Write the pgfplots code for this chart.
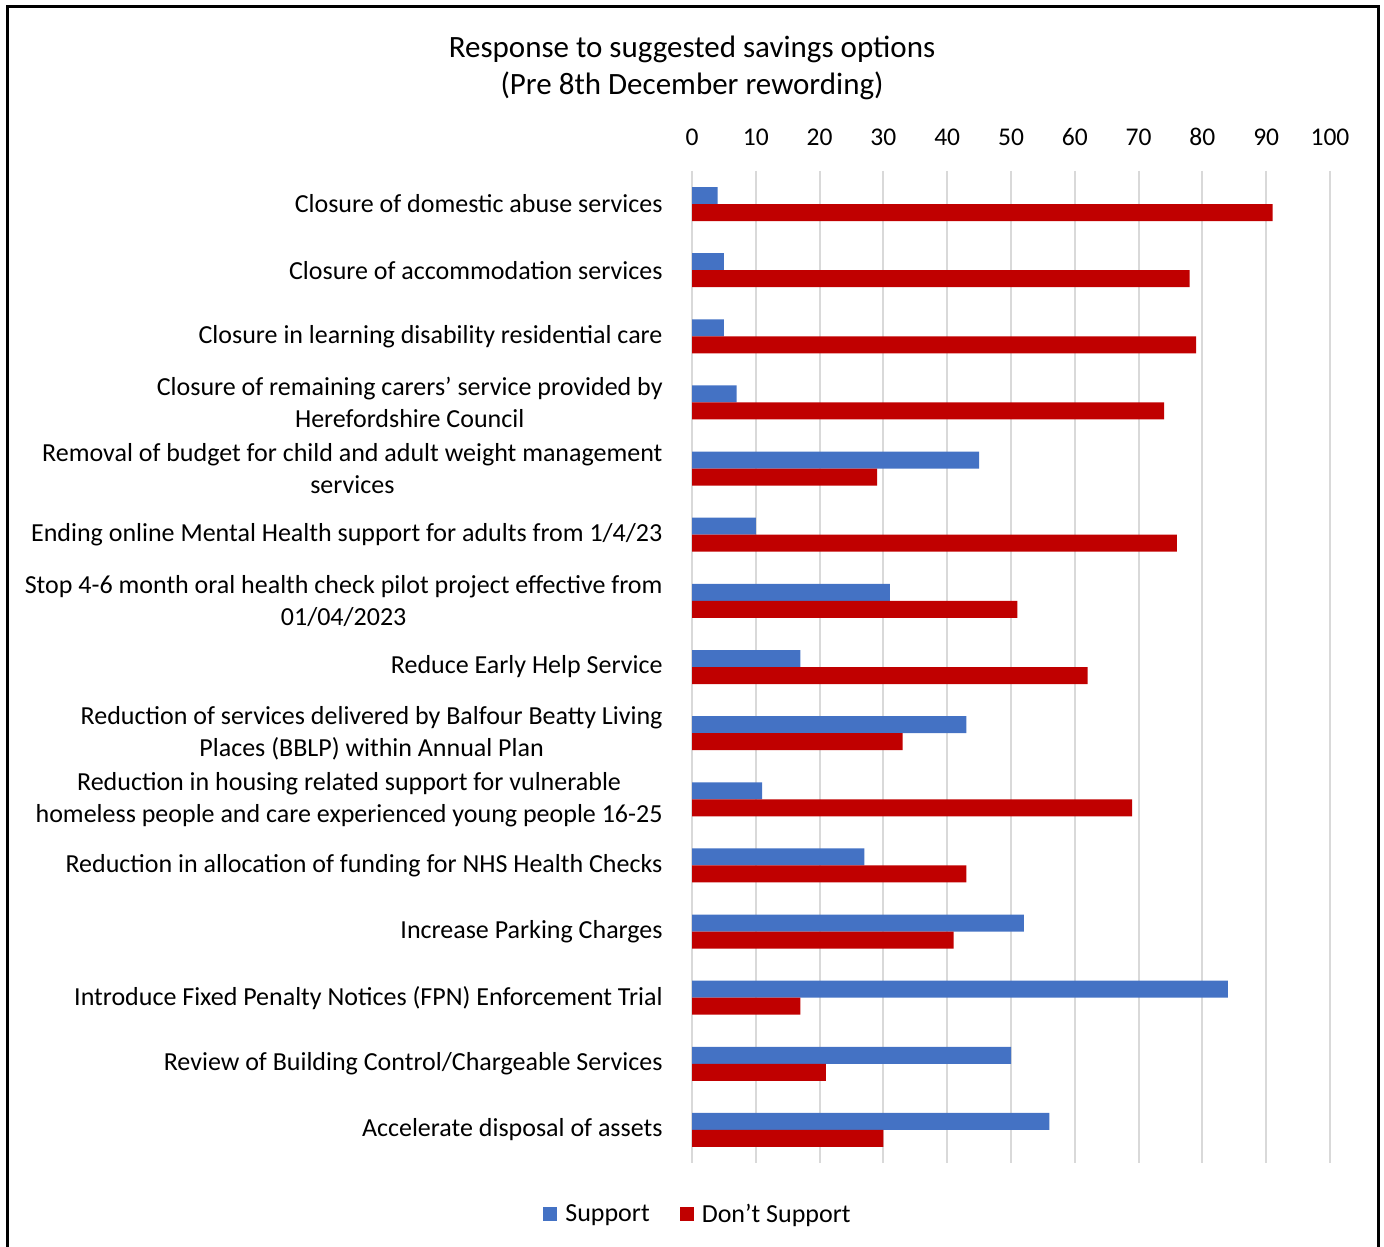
\documentclass[border=0pt]{standalone}
\usepackage{fontspec}
\setmainfont{Carlito}
\usepackage{pgfplots}
\pgfplotsset{compat=1.18}

\definecolor{supblue}{HTML}{4472C4}
\definecolor{nored}{HTML}{C00000}
\definecolor{gridgrey}{HTML}{D9D9D9}

\begin{document}
\begin{tikzpicture}
\path[use as bounding box] (0,0) rectangle (1384pt,1247pt);
% outer frame (bottom edge is cut off in the original)
\draw[line width=3pt] (7pt,-2pt) -- (7pt,1240pt) -- (1378pt,1240pt) -- (1378pt,-2pt);

\node[align=center, font=\fontsize{31}{37}\selectfont] at (692pt,1179pt)
  {Response to suggested savings options\\(Pre 8th December rewording)};

\begin{axis}[
    at={(692pt,84pt)}, anchor=south west,
    scale only axis,
    width=638pt, height=992pt,
    xmin=0, xmax=100,
    ymin=-0.5, ymax=14.5,
    y dir=reverse,
    xbar,
    bar width=17pt,
    axis line style={draw=none},
    tick style={draw=none},
    xtick={0,10,...,100},
    xticklabel pos=upper,
    xmajorgrids,
    major grid style={gridgrey, line width=2pt},
    ytick={0,...,14},
    yticklabels={
      {Closure of domestic abuse services},
      {Closure of accommodation services},
      {Closure in learning disability residential care},
      {Closure of remaining carers’ service provided by\\Herefordshire Council},
      {Removal of budget for child and adult weight management\\services},
      {Ending online Mental Health support for adults from 1/4/23},
      {Stop 4-6 month oral health check pilot project effective from\\01/04/2023},
      {Reduce Early Help Service},
      {Reduction of services delivered by Balfour Beatty Living\\Places (BBLP) within Annual Plan},
      {Reduction in housing related support for vulnerable\\homeless people and care experienced young people 16-25},
      {Reduction in allocation of funding for NHS Health Checks},
      {Increase Parking Charges},
      {Introduce Fixed Penalty Notices (FPN) Enforcement Trial},
      {Review of Building Control/Chargeable Services},
      {Accelerate disposal of assets}},
    yticklabel style={align=center, anchor=east, inner sep=0pt, xshift=-25pt,
      font=\fontsize{26}{32}\selectfont},
    xticklabel style={anchor=south, inner sep=0pt, yshift=25pt,
      font=\fontsize{25.5}{30}\selectfont},
    /pgf/number format/assume math mode=true,
    legend columns=2,
    legend style={at={(0.0094,-0.0514)}, anchor=center, draw=none,
      font=\fontsize{26}{30}\selectfont,
      /tikz/every odd column/.append style={column sep=6pt},
      /tikz/every even column/.append style={column sep=28pt}},
    legend image code/.code={\fill[#1] (0pt,-7pt) rectangle (14pt,7pt);},
]
\addplot[fill=supblue, draw=none, bar shift=8.5pt] coordinates {
  (4,0) (5,1) (5,2) (7,3) (45,4) (10,5) (31,6) (17,7)
  (43,8) (11,9) (27,10) (52,11) (84,12) (50,13) (56,14)
};
\addplot[fill=nored, draw=none, bar shift=-8.5pt] coordinates {
  (91,0) (78,1) (79,2) (74,3) (29,4) (76,5) (51,6) (62,7)
  (33,8) (69,9) (43,10) (41,11) (17,12) (21,13) (30,14)
};
\legend{Support, Don’t Support}
\end{axis}
\end{tikzpicture}
\end{document}
